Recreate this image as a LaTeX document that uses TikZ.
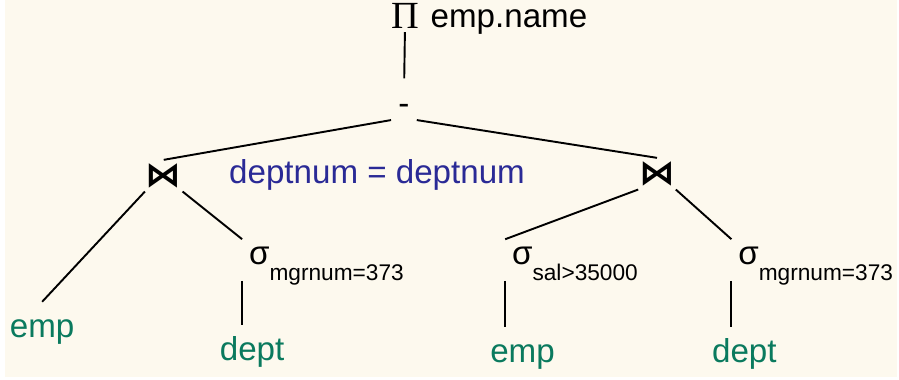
\documentclass[tikz,border=0pt]{standalone}
\usepackage{fontspec}
\setmainfont{Liberation Sans}
\newfontfamily\serifgreek{Liberation Serif}
\newfontfamily\opfont{DejaVu Sans}
\usepackage{graphicx}
\usepackage{amsmath}
\usetikzlibrary{positioning, calc}

\definecolor{paper}{RGB}{253,249,238}
\definecolor{relgreen}{RGB}{10,122,94}
\definecolor{condblue}{RGB}{42,42,150}

% operator symbols of the plan
\newcommand{\joinop}{\resizebox{0.72cm}{0.46cm}{\opfont\bfseries ⋈}}
\newcommand{\selop}[1]{σ\raisebox{-0.34cm}{\fontsize{13}{15}\selectfont #1}}

\begin{document}
\begin{tikzpicture}[line width=1.1pt,
    every node/.style={font=\fontsize{19}{22}\selectfont},
    op/.style={inner sep=0pt, minimum width=0.6cm, minimum height=0.6cm},
    sel/.style={anchor=base west, inner sep=0.12cm, text height=0.36cm, text depth=0.2cm},
    rel/.style={relgreen, anchor=base, inner sep=0.2cm, text height=0.5cm}]
      \fill[paper] (0,0) rectangle (17.98,-7.6);

      % projection and difference
      \node[anchor=base, inner sep=0.05cm, font=\fontsize{22}{26}\selectfont\serifgreek] (proj) at (8.06,-0.58) {Π};
      \node[anchor=base west, inner sep=0pt] (projattr) at (8.56,-0.56) {emp.name};
      \node[inner sep=0pt, minimum width=0.48cm, minimum height=0.4cm] (diff) at (8.04,-2.2) {-};

      % the two joins
      \node[op] (joinL) at (3.2,-3.54) {\joinop};
      \node[op] (joinR) at (13.14,-3.5) {\joinop};
      \node[condblue, anchor=base west, inner sep=0pt] (cond) at (4.5,-3.7) {deptnum = deptnum};

      % selections
      \node[sel] (selL) at (4.78,-5.32) {\selop{mgrnum=373}};
      \node[sel] (selM) at (10.08,-5.32) {\selop{sal>35000}};
      \node[sel] (selR) at (14.64,-5.32) {\selop{mgrnum=373}};

      % base relations
      \node[rel] (empL) at (0.75,-6.8) {emp};
      \node[rel] (deptL) at (4.98,-7.26) {dept};
      \node[rel] (empR) at (10.43,-7.3) {emp};
      \node[rel] (deptR) at (14.9,-7.3) {dept};

      \draw[shorten >=0.4cm] (proj.south) -- (diff.north);
      \draw (diff.south west) -- (joinL.north);
      \draw (diff.south east) -- (joinR.north);

      \draw (joinL.south west) -- (empL.north);
      \draw (joinL.south east) -- (selL.north west);
      \draw (selL.south west) -- (selL.south west |- deptL.north);

      \draw (joinR.south west) -- (selM.north west);
      \draw (joinR.south east) -- (selR.north west);
      \draw (selM.south west) -- (selM.south west |- empR.north);
      \draw (selR.south west) -- (selR.south west |- deptR.north);
    \end{tikzpicture}
\end{document}
